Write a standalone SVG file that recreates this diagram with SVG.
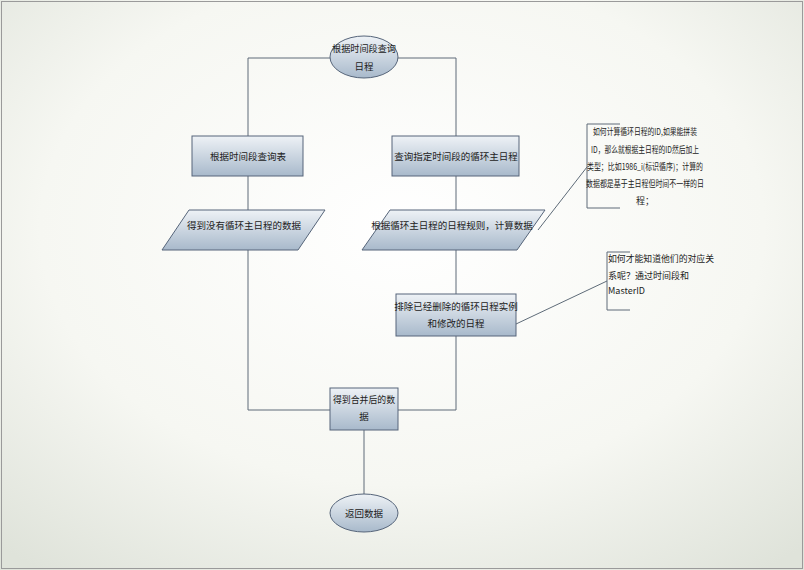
<svg xmlns="http://www.w3.org/2000/svg" width="804" height="570" viewBox="0 0 804 570">
<defs>
<radialGradient id="bg" cx="0.5" cy="0.4" r="0.75"><stop offset="0" stop-color="#ffffff"/><stop offset="0.6" stop-color="#f6f7f2"/><stop offset="1" stop-color="#dfe3da"/></radialGradient>
<linearGradient id="fill" x1="0" y1="0" x2="0" y2="1"><stop offset="0" stop-color="#eef2f6"/><stop offset="1" stop-color="#a8b9cb"/></linearGradient>
<style>
.s{fill:url(#fill);stroke:#56657a;stroke-width:1}
.c{fill:none;stroke:#5e6b78;stroke-width:1}
text{font-family:"Noto Sans CJK SC","Liberation Sans",sans-serif;font-size:9.5px;fill:#222}
.m{text-anchor:middle}
.n{font-size:9px}
</style>
</defs>
<rect x="0" y="0" width="804" height="570" fill="url(#bg)"/>
<rect x="1.5" y="1.5" width="801" height="567" fill="none" stroke="#9a9a9a"/>
<g id="connectors">
<polyline class="c" points="331,58 248,58 248,136"/>
<polyline class="c" points="397,58 456,58 456,136"/>
<line class="c" x1="248" y1="176" x2="248" y2="210"/>
<line class="c" x1="456" y1="176" x2="456" y2="210"/>
<polyline class="c" points="248,250 248,410 330,410"/>
<line class="c" x1="456" y1="250" x2="456" y2="294"/>
<polyline class="c" points="456,336 456,410 398,410"/>
<line class="c" x1="364" y1="430" x2="364" y2="494"/>
<line class="c" x1="587" y1="167" x2="538" y2="230"/>
<line class="c" x1="607" y1="281" x2="497" y2="333"/>
</g>
<g id="start"><ellipse class="s" cx="364" cy="57" rx="34" ry="21"/><text class="m" x="364" y="52" textLength="64" lengthAdjust="spacingAndGlyphs">根据时间段查询</text><text class="m" x="364" y="70">日程</text></g>
<g id="n1"><rect class="s" x="192" y="136" width="111" height="40"/><text class="m" x="248" y="160">根据时间段查询表</text></g>
<g id="n2"><rect class="s" x="392" y="136" width="127" height="40"/><text class="m" x="456" y="160">查询指定时间段的循环主日程</text></g>
<g id="p1"><polygon class="s" points="189,210 325,210 298,250 162,250"/><text class="m" x="244" y="229">得到没有循环主日程的数据</text></g>
<g id="p2"><polygon class="s" points="390,210 545,210 517,250 362,250"/><text class="m" x="452" y="229">根据循环主日程的日程规则，计算数据</text></g>
<g id="n3"><rect class="s" x="396" y="294" width="120" height="42"/><text class="m" x="456" y="310">排除已经删除的循环日程实例</text><text class="m" x="456" y="327">和修改的日程</text></g>
<g id="merge"><rect class="s" x="330" y="388" width="68" height="42"/><text class="m" x="364" y="403" textLength="62" lengthAdjust="spacingAndGlyphs">得到合并后的数</text><text class="m" x="364" y="420">据</text></g>
<g id="end"><ellipse class="s" cx="364" cy="513" rx="34" ry="19"/><text class="m" x="364" y="517">返回数据</text></g>
<g id="note1"><polyline class="c" points="620,124 587,124 587,208 620,208"/>
<text class="m n" x="645" y="135" textLength="104" lengthAdjust="spacingAndGlyphs">如何计算循环日程的ID,如果能拼装</text>
<text class="m n" x="645" y="153" textLength="108" lengthAdjust="spacingAndGlyphs">ID，那么就根据主日程的ID然后加上</text>
<text class="m n" x="645" y="170" textLength="116" lengthAdjust="spacingAndGlyphs">类型；比如1986_i(标识循序)；计算的</text>
<text class="m n" x="645" y="187" textLength="118" lengthAdjust="spacingAndGlyphs">数据都是基于主日程但时间不一样的日</text>
<text class="m n" x="645" y="204">程；</text></g>
<g id="note2"><polyline class="c" points="630,252 607,252 607,310 630,310"/>
<text class="n" x="608" y="262" textLength="106" lengthAdjust="spacingAndGlyphs">如何才能知道他们的对应关</text>
<text class="n" x="608" y="279">系呢？通过时间段和</text>
<text class="n" x="608" y="294">MasterID</text></g>
</svg>
